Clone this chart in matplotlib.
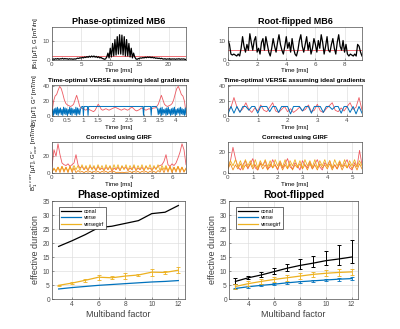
import matplotlib
matplotlib.use("Agg")
import matplotlib.pyplot as plt
import numpy as np

plt.rcParams['font.family'] = ['Liberation Sans', 'DejaVu Sans']

c_red = (0.93, 0.35, 0.38)
c_blue = (0.0, 0.447, 0.741)
c_yel = (0.929, 0.694, 0.125)
c_org = (0.95, 0.55, 0.10)

# ---- row 1: MB6 pulses ----
po_b1 = [0.2, 0.5, 0.3, 0.6, 0.4, 0.7, 0.3, 0.6, 0.5, 0.8, 0.4, 0.7, 0.5, 0.6, 0.3, 0.6, 0.4, 0.5, 0.3, 0.5, 0.4,
         0.6, 0.9, 0.7, 1.1, 0.9, 1.3, 1.0, 1.5, 1.2, 1.7, 1.3, 1.9, 1.4, 2.0, 1.5, 2.0, 1.4, 1.8, 1.2, 1.6, 1.0, 1.3, 0.8,
         0.6, 0.3, 0.5, 1.5,
         3.5, 1.0, 6.0, 1.5, 8.5, 2.0, 10.5, 2.5, 12.0, 3.0, 13.0, 3.0, 12.8, 2.5, 12.0, 2.0, 10.5, 2.0, 8.5, 1.5, 6.0, 1.0, 3.5,
         1.5, 0.5, 0.3, 0.6,
         0.8, 1.0, 0.9, 1.2, 1.0, 1.4, 1.1, 1.5, 1.2, 1.5, 1.1, 1.4, 1.0, 1.2, 0.8, 1.0, 0.7, 0.9, 0.6, 0.8, 0.5,
         0.4, 0.6, 0.3, 0.5, 0.4, 0.6, 0.3, 0.5, 0.4, 0.5, 0.3, 0.5, 0.4, 0.6, 0.3, 0.5, 0.4, 0.5, 0.3, 0.2]
po_dur = 23.0
po_g = 2.0

rf_b1 = [10, 8, 3, 2.5, 3, 2.5, 2, 3, 2, 6, 12, 7, 4, 8, 5, 13.5, 9, 5, 10, 12, 4, 6, 3, 9, 11, 5, 12, 8, 4, 2,
         6, 11, 7, 4, 9, 13, 8, 5, 3, 7, 12, 6, 9, 4, 11, 6, 3, 2, 5, 10, 13, 7, 4, 8, 12, 5, 9, 3, 6, 11,
         8, 4, 10, 6, 13, 9, 3, 7, 12, 5, 4, 8, 11, 6, 3, 9, 13, 7, 5, 10, 4, 8, 3, 2, 3, 2.5, 2, 3, 2, 8,
         7, 4, 2]
rf_dur = 9.2
rf_g = 5.0

# ---- row 2: VERSE, ideal gradients ----
po_v_b1 = [5, 20, 27, 29, 35, 40, 37, 30, 22, 17, 15, 14, 13, 14, 16, 22, 28, 21, 13, 11,
           10, 9, 8, 10, 9, 8, 7, 6, 8, 12, 16, 13, 9, 8, 9, 10, 9, 8, 9, 10,
           11, 12, 11, 10, 9, 8, 9, 10, 9, 8, 9, 11, 12, 10, 8, 7, 8, 9, 11, 10,
           9, 8, 9, 10, 9, 10, 11, 11, 13, 16, 22, 28, 22, 16, 14, 13, 14, 15, 17, 22,
           30, 37, 40, 35, 29, 27, 20, 5]
po_v_dur = 4.35
po_v_g_start = [2, 9, 1, 10, 3, 11, 2, 12, 1, 10, 4, 11, 2, 9, 1, 12, 3, 11, 2, 10,
                1, 9, 3, 12, 2, 11, 1, 10, 4, 9, 2, 12, 1, 11, 3, 10, 2, 9, 12]
po_v_g_mid_t = [0.975, 1.0, 1.02, 1.04, 1.15, 1.17, 1.19, 2.95, 2.97, 2.99, 3.2, 3.22, 3.24, 3.38]
po_v_g_mid = [13, 13, 1, 13, 13, 1, 13, 13, 1, 13, 13, 1, 13, 13]
po_v_g_end = [12, 9, 2, 10, 3, 11, 1, 12, 2, 9, 4, 10, 1, 11, 2, 12, 3, 9, 1, 10,
              2, 11, 3, 12, 1, 9, 2, 10, 4, 11, 1, 12, 3, 10, 2, 9, 1, 11, 2]

rf_v_b1 = [8, 12, 25, 12, 6, 10, 18, 9, 5, 11, 7, 15, 8, 6, 12, 18, 7, 5, 9, 13,
           6, 10, 5, 8, 12, 7, 9, 15, 6, 8, 16, 7, 5, 10, 14, 18, 8, 6, 11, 7,
           13, 18, 9, 12, 25, 8]
rf_v_g = [3, 13, 4, 13, 5, 13, 13, 8, 13, 13, 4, 13, 13, 13, 6, 13, 13, 5, 13, 13,
          13, 3, 13, 13, 13, 7, 13, 13, 4, 13, 13, 13, 5, 13, 13, 9, 13, 13, 4, 13,
          13, 5, 13, 3, 13, 4]
rf_v_dur = 4.5

# ---- row 3: corrected using GIRF ----
po_c_b1 = [8, 28, 20, 35, 22, 12, 10, 9, 11, 8, 10, 12, 22, 10, 6, 8, 4, 7, 3, 8,
           5, 7, 3, 8, 4, 6, 3, 7, 4, 8, 2, 6, 4, 7, 3, 8, 5, 7, 3, 6,
           4, 8, 3, 6, 4, 7, 3, 8, 5, 6, 3, 7, 5, 8, 9, 10, 14, 22, 10, 8,
           11, 9, 12, 18, 25, 35, 28, 10]
po_c_gy = [2, 5, 3, 7, 3, 8, 3, 7, 2, 8, 3, 9, 4, 9, 3, 10, 4, 9, 3, 10,
           4, 9, 3, 10, 4, 9, 3, 10, 4, 9, 3, 10, 4, 10, 3, 9, 4, 10, 3, 9,
           4, 10, 3, 9, 4, 10, 3, 9, 4, 10, 3, 9, 4, 10, 3, 9, 4, 9, 3, 8,
           2, 7, 3, 8, 3, 7, 2, 5]
po_c_go = [0.5, 6, 1, 7, 0.5, 8, 1, 7, 0.5, 8, 1, 6, 0.5, 3, 1, 2, 0.5, 2, 1, 2,
           0.5, 2, 1, 2, 0.5, 2, 1, 2, 0.5, 2, 1, 2, 0.5, 1, 0.5, 1, 0.5, 1, 1, 2,
           0.5, 2, 1, 2, 0.5, 2, 1, 2, 0.5, 2, 1, 2, 0.5, 3, 1, 6, 0.5, 7, 1, 8,
           0.5, 7, 1, 8, 0.5, 7, 1, 6]
po_c_dur = 6.7

rf_c_b1 = [5, 12, 25, 14, 6, 3, 8, 12, 4, 9, 14, 5, 3, 10, 7, 12, 4, 6, 13, 8,
           3, 11, 5, 9, 14, 6, 4, 10, 7, 3, 12, 8, 5, 11, 4, 9, 13, 6, 3, 10,
           7, 12, 5, 8, 4, 11, 6, 9, 13, 5, 3, 10, 6, 22, 8]
rf_c_gy = [6, 12, 7, 13, 6, 12, 5, 13, 7, 12, 6, 13, 5, 12, 7, 13, 6, 12, 5, 13,
           7, 12, 6, 13, 5, 12, 7, 13, 6, 12, 5, 13, 7, 12, 6, 13, 5, 12, 7, 13,
           6, 12, 5, 13, 7, 12, 6, 13, 5, 12, 7, 13, 6, 12, 7]
rf_c_go = [4, 9, 3, 8, 4, 9, 3, 8, 5, 9, 4, 8, 3, 9, 4, 8, 3, 9, 5, 8,
           4, 9, 3, 8, 4, 9, 3, 8, 5, 9, 4, 8, 3, 9, 4, 8, 3, 9, 5, 8,
           4, 9, 3, 8, 4, 9, 3, 8, 5, 9, 4, 8, 3, 9, 4]
rf_c_dur = 5.4

# ---- row 4: effective duration vs multiband factor ----
mb = [3, 4, 5, 6, 7, 8, 9, 10, 11, 12]
po_conal = [18.8, 20.8, 23.0, 25.5, 26.0, 27.0, 28.0, 30.5, 31.0, 33.4]
po_verse = [3.6, 4.1, 4.5, 4.9, 5.2, 5.5, 5.8, 6.1, 6.3, 6.6]
po_girf = [4.9, 5.7, 6.7, 7.8, 7.6, 8.2, 8.6, 9.6, 9.5, 10.3]
po_girf_err = [0.2, 0.3, 0.5, 0.9, 0.6, 1.0, 0.5, 1.3, 0.4, 1.0]

rf_conal = [6.3, 7.6, 8.6, 9.8, 11.0, 12.0, 12.8, 13.7, 14.3, 15.0]
rf_conal_lo = [1.0, 0.5, 0.8, 0.8, 1.0, 1.2, 1.3, 1.4, 2.3, 2.0]
rf_conal_hi = [1.3, 0.7, 1.2, 1.2, 1.5, 2.3, 2.7, 3.6, 5.0, 6.0]
rf_verse = [3.8, 4.4, 4.9, 5.3, 5.8, 6.2, 6.5, 6.8, 7.1, 7.3]
rf_verse_err = [0.3, 0.3, 0.3, 0.3, 0.4, 0.4, 0.4, 0.4, 0.5, 0.5]
rf_girf = [4.5, 5.5, 6.3, 7.0, 7.6, 8.2, 8.8, 9.2, 9.5, 9.7]
rf_girf_err = [0.8, 0.8, 0.9, 0.9, 1.0, 1.0, 1.0, 1.1, 1.1, 1.2]


def style(ax, fs=4.5):
    ax.grid(True, color=(0.85, 0.85, 0.85), lw=0.4)
    ax.set_axisbelow(True)
    ax.tick_params(direction='in', labelsize=fs, length=1.5, width=0.4, pad=1.5,
                   colors=(0.3, 0.3, 0.3))
    for s in ax.spines.values():
        s.set_linewidth(0.5)
        s.set_color((0.3, 0.3, 0.3))


fig = plt.figure(figsize=(4.0, 3.29), dpi=100)

lx = [0.13, 0.57]
w = [0.335, 0.335]
rows = [(0.818, 0.10), (0.647, 0.095), (0.474, 0.094)]

ax = [[fig.add_axes([lx[c], rows[r][0], w[c], rows[r][1]]) for c in range(2)] for r in range(3)]

# row 1
a = ax[0][0]
t = np.linspace(0, po_dur, len(po_b1))
a.axhline(po_g, color=c_red, lw=0.6)
a.plot(t, po_b1, color='k', lw=0.9)
a.set_xlim(0, po_dur)
a.set_ylim(0, 17)
a.set_xticks([0, 5, 10, 15, 20])
a.set_yticks([0, 10])
a.set_title('Phase-optimized MB6', fontsize=6.5, fontweight='bold', pad=2)
a.set_ylabel('|B$_1$| [\u03bcT], G [mT/m]', fontsize=4.3, labelpad=2)

a = ax[0][1]
t = np.linspace(0, rf_dur, len(rf_b1))
a.axhline(rf_g, color=c_red, lw=0.6)
a.plot(t, rf_b1, color='k', lw=0.9)
a.set_xlim(0, rf_dur)
a.set_ylim(0, 17)
a.set_xticks([0, 2, 4, 6, 8])
a.set_yticks([0, 10])
a.set_title('Root-flipped MB6', fontsize=6.5, fontweight='bold', pad=2)

# row 2
a = ax[1][0]
t = np.linspace(0, po_v_dur, len(po_v_b1))
gt = np.concatenate([np.linspace(0, 0.95, len(po_v_g_start)), po_v_g_mid_t,
                     np.linspace(3.4, po_v_dur, len(po_v_g_end))])
gv = po_v_g_start + po_v_g_mid + po_v_g_end
a.plot(t, po_v_b1, color=c_red, lw=0.6)
a.plot(gt, gv, color=c_blue, lw=0.7)
a.set_xlim(0, po_v_dur)
a.set_ylim(0, 42)
a.set_xticks([0, 0.5, 1, 1.5, 2, 2.5, 3, 3.5, 4])
a.set_xticklabels(['0', '0.5', '1', '1.5', '2', '2.5', '3', '3.5', '4'])
a.set_yticks([0, 20, 40])
a.set_title('Time-optimal VERSE assuming ideal gradients', fontsize=4.6, fontweight='bold', pad=2)
a.set_ylabel('B$_1^v$ [\u03bcT], G$^v$ [mT/m]', fontsize=4.3, labelpad=2)

a = ax[1][1]
t = np.linspace(0, rf_v_dur, len(rf_v_b1))
a.plot(t, rf_v_b1, color=c_red, lw=0.6)
a.plot(t, rf_v_g, color=c_blue, lw=0.7)
a.set_xlim(0, rf_v_dur)
a.set_ylim(0, 42)
a.set_xticks([0, 1, 2, 3, 4])
a.set_yticks([0, 20, 40])
a.set_title('Time-optimal VERSE assuming ideal gradients', fontsize=4.6, fontweight='bold', pad=2)

# row 3
a = ax[2][0]
t = np.linspace(0, po_c_dur, len(po_c_b1))
a.plot(t, po_c_b1, color=c_red, lw=0.6)
a.plot(t, po_c_gy, color=c_yel, lw=0.6)
a.plot(t, po_c_go, color=c_org, lw=0.6)
a.set_xlim(0, po_c_dur)
a.set_ylim(0, 37)
a.set_xticks([0, 1, 2, 3, 4, 5, 6])
a.set_yticks([0, 20])
a.set_title('Corrected using GIRF', fontsize=4.6, fontweight='bold', pad=2)
a.set_ylabel('B$_1^{v,corr}$ [\u03bcT], G$^v_{corr}$ [mT/m]', fontsize=4.3, labelpad=2)

a = ax[2][1]
t = np.linspace(0, rf_c_dur, len(rf_c_b1))
a.plot(t, rf_c_b1, color=c_red, lw=0.6)
a.plot(t, rf_c_gy, color=c_yel, lw=0.6)
a.plot(t, rf_c_go, color=c_org, lw=0.6)
a.set_xlim(0, rf_c_dur)
a.set_ylim(0, 30)
a.set_xticks([0, 1, 2, 3, 4, 5])
a.set_yticks([0, 20])
a.set_title('Corrected using GIRF', fontsize=4.6, fontweight='bold', pad=2)

for r in range(3):
    for c in range(2):
        style(ax[r][c])
        ax[r][c].set_xlabel('Time [ms]', fontsize=4.5, labelpad=1)

# row 4
b1 = fig.add_axes([0.13, 0.091, 0.3325, 0.298])
b2 = fig.add_axes([0.5725, 0.091, 0.3225, 0.298])

b1.plot(mb, po_conal, color='k', lw=0.9, label='conal')
b1.plot(mb, po_verse, color=c_blue, lw=0.9, label='verse')
b1.plot(mb, po_girf, color=c_yel, lw=0.9, label='versegirf')
b1.errorbar(mb, po_girf, yerr=po_girf_err, fmt='none', ecolor=c_yel, elinewidth=0.6,
            capsize=1.5, capthick=0.6)
b1.set_title('Phase-optimized', fontsize=7.5, fontweight='bold', pad=2)

b2.plot(mb, rf_conal, color='k', lw=0.9, label='conal')
b2.plot(mb, rf_verse, color=c_blue, lw=0.9, label='verse')
b2.plot(mb, rf_girf, color=c_yel, lw=0.9, label='versegirf')
b2.errorbar(mb, rf_conal, yerr=[rf_conal_lo, rf_conal_hi], fmt='none', ecolor='k',
            elinewidth=0.7, capsize=1.5, capthick=0.7)
b2.errorbar(mb, rf_verse, yerr=rf_verse_err, fmt='none', ecolor=c_blue, elinewidth=0.6,
            capsize=1.5, capthick=0.6)
b2.errorbar(mb, rf_girf, yerr=rf_girf_err, fmt='none', ecolor=c_yel, elinewidth=0.6,
            capsize=1.5, capthick=0.6)
b2.set_title('Root-flipped', fontsize=7.5, fontweight='bold', pad=2)

for b in (b1, b2):
    b.set_xlim(2.5, 12.5)
    b.set_ylim(0, 35)
    b.set_xticks([4, 6, 8, 10, 12])
    b.set_yticks([0, 5, 10, 15, 20, 25, 30, 35])
    style(b, fs=4.8)
    b.set_xlabel('Multiband factor', fontsize=6.5, labelpad=1.5, color=(0.25, 0.25, 0.25))
    b.set_ylabel('effective duration', fontsize=6.5, labelpad=1.5, color=(0.25, 0.25, 0.25))
    leg = b.legend(loc='upper left', fontsize=3.8, frameon=True, fancybox=False,
                   edgecolor=(0.2, 0.2, 0.2), handlelength=3.8, borderpad=0.4,
                   labelspacing=0.3, handletextpad=0.6, framealpha=1,
                   bbox_to_anchor=(0.03, 0.97))
    leg.get_frame().set_linewidth(0.5)

fig.savefig('out.png', dpi=100)
